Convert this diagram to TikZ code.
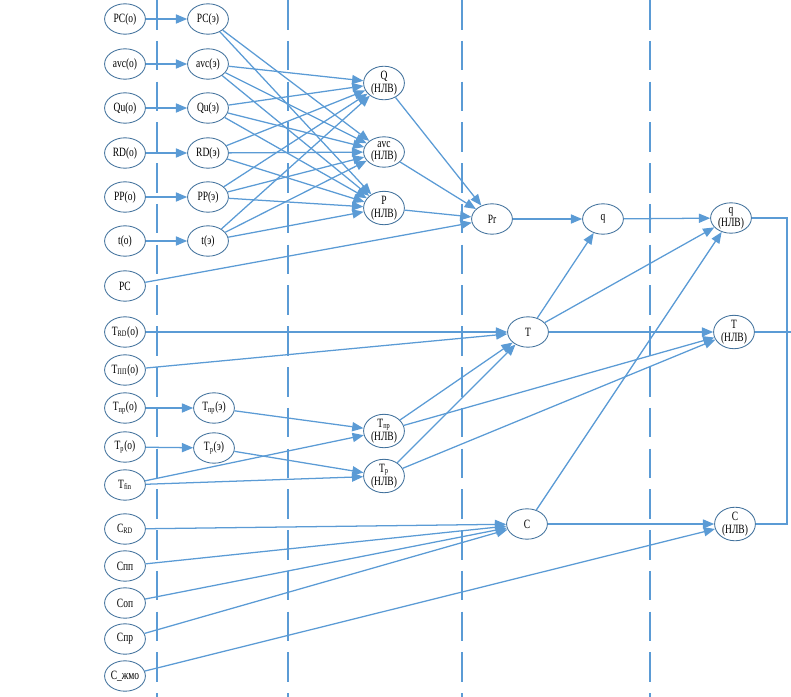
\documentclass[tikz,border=0pt]{standalone}
\usepackage{fontspec}
\setmainfont{Liberation Serif}[FakeStretch=0.75]
\usetikzlibrary{shapes.geometric,arrows.meta}
\definecolor{lineblue}{RGB}{91,155,213}
\definecolor{rimblue}{RGB}{65,113,156}
\tikzset{
  var/.style={ellipse,draw=rimblue,line width=0.6pt,fill=white,minimum width=1.02cm,minimum height=0.76cm,inner sep=0pt,font=\fontsize{9}{9}\selectfont,align=center},
  link/.style={draw=lineblue,line width=0.9pt,-{Triangle[length=8pt,width=6.5pt]}},
  plain/.style={draw=lineblue,line width=0.9pt},
  sep/.style={draw=lineblue,line width=0.9pt,dash pattern=on 21pt off 8pt}
}
\begin{document}
\begin{tikzpicture}[x=0.025cm,y=-0.025cm]
\useasboundingbox (0,0) rectangle (791,697);
%% separators
  \draw[sep] (157,0) -- (157,697);
  \draw[sep] (288,0) -- (288,697);
  \draw[sep] (462,0) -- (462,697);
  \draw[sep] (650,0) -- (650,697);
%% first column
  \node[var] (pco) at (125,19) {PC(о)};
  \node[var] (avco) at (125,64) {avc(о)};
  \node[var] (quo) at (125,108) {Qu(о)};
  \node[var] (rdo) at (125,153) {RD(о)};
  \node[var] (ppo) at (125,197) {PP(о)};
  \node[var] (to) at (125,241) {t(о)};
  \node[var] (pc) at (125,286) {PC};
  \node[var] (trdo) at (125,332) {T\textsubscript{RD}(о)};
  \node[var] (tppo) at (125,370) {T\textsubscript{ПП}(о)};
  \node[var] (tpro) at (125,408) {T\textsubscript{пр}(о)};
  \node[var] (tro) at (125,447) {T\textsubscript{р}(о)};
  \node[var] (tfin) at (125,485) {T\textsubscript{fin}};
  \node[var] (crd) at (125,529) {C\textsubscript{RD}};
  \node[var] (cpp) at (125,566) {Cпп};
  \node[var] (cop) at (125,603) {Cоп};
  \node[var] (cpr) at (125,639) {Cпр};
  \node[var] (czhmo) at (125,676) {C\_жмо};
%% second column
  \node[var] (pce) at (208,19) {PC(э)};
  \node[var] (avce) at (208,64) {avc(э)};
  \node[var] (que) at (208,108) {Qu(э)};
  \node[var] (rde) at (208,153) {RD(э)};
  \node[var] (ppe) at (208,197) {PP(э)};
  \node[var] (te) at (208,241) {t(э)};
  \node[var] (tpre) at (214,408) {T\textsubscript{пр}(э)};
  \node[var] (tre) at (214,448) {T\textsubscript{р}(э)};
%% third column
  \node[var] (qn) at (384,83) {Q\\(НЛВ)};
  \node[var] (avcn) at (384,152) {avc\\(НЛВ)};
  \node[var] (pn) at (384,208) {P\\(НЛВ)};
  \node[var] (tprn) at (384,431) {T\textsubscript{пр}\\(НЛВ)};
  \node[var] (trn) at (384,476) {T\textsubscript{р}\\(НЛВ)};
%% middle
  \node[var] (pr) at (492,219) {Pr};
  \node[var] (tt) at (528,332) {T};
  \node[var] (cc) at (527,524) {C};
  \node[var] (qq) at (603,219) {q};
%% outputs
  \node[var] (qout) at (731,218) {q\\(НЛВ)};
  \node[var] (tout) at (734,332) {T\\(НЛВ)};
  \node[var] (cout) at (735,524) {C\\(НЛВ)};
%% (о) -> (э)
  \draw[link] (pco) -- (pce);
  \draw[link] (avco) -- (avce);
  \draw[link] (quo) -- (que);
  \draw[link] (rdo) -- (rde);
  \draw[link] (ppo) -- (ppe);
  \draw[link] (to) -- (te);
  \draw[link] (tpro) -- (tpre);
  \draw[link] (tro) -- (tre);
%% (э) -> (НЛВ)
  \draw[link] (pce) -- (avcn);
  \draw[link] (pce) -- (pn);
  \draw[link] (avce) -- (qn);
  \draw[link] (avce) -- (avcn);
  \draw[link] (avce) -- (pn);
  \draw[link] (que) -- (qn);
  \draw[link] (que) -- (avcn);
  \draw[link] (que) -- (pn);
  \draw[link] (rde) -- (qn);
  \draw[link] (rde) -- (avcn);
  \draw[link] (rde) -- (pn);
  \draw[link] (ppe) -- (qn);
  \draw[link] (ppe) -- (avcn);
  \draw[link] (ppe) -- (pn);
  \draw[link] (te) -- (qn);
  \draw[link] (te) -- (avcn);
  \draw[link] (te) -- (pn);
%% Pr and q
  \draw[link] (qn) -- (pr);
  \draw[link] (avcn) -- (pr);
  \draw[link] (pn) -- (pr);
  \draw[link] (pc) -- (pr);
  \draw[link] (pr) -- (qq);
  \draw[link] (qq) -- (qout);
%% T
  \draw[link] (trdo) -- (tt);
  \draw[link] (tppo) -- (tt);
  \draw[link] (tpre) -- (tprn);
  \draw[link] (tre) -- (trn);
  \draw[link] (tfin) -- (tprn);
  \draw[link] (tfin) -- (trn);
  \draw[link] (tprn) -- (tt);
  \draw[link] (trn) -- (tt);
  \draw[link] (tprn) -- (tout);
  \draw[link] (trn) -- (tout);
  \draw[link] (tt) -- (qq);
  \draw[link] (tt) -- (qout);
  \draw[link] (tt) -- (tout);
%% C
  \draw[link] (crd) -- (cc);
  \draw[link] (cpp) -- (cc);
  \draw[link] (cop) -- (cc);
  \draw[link] (cpr) -- (cc);
  \draw[link] (czhmo) -- (cout);
  \draw[link] (cc) -- (qout);
  \draw[link] (cc) -- (cout);
%% right bracket
  \draw[plain] (qout.east) -- (787,218) |- (cout.east);
  \draw[plain] (tout.east) -- (791,332);
\end{tikzpicture}
\end{document}
